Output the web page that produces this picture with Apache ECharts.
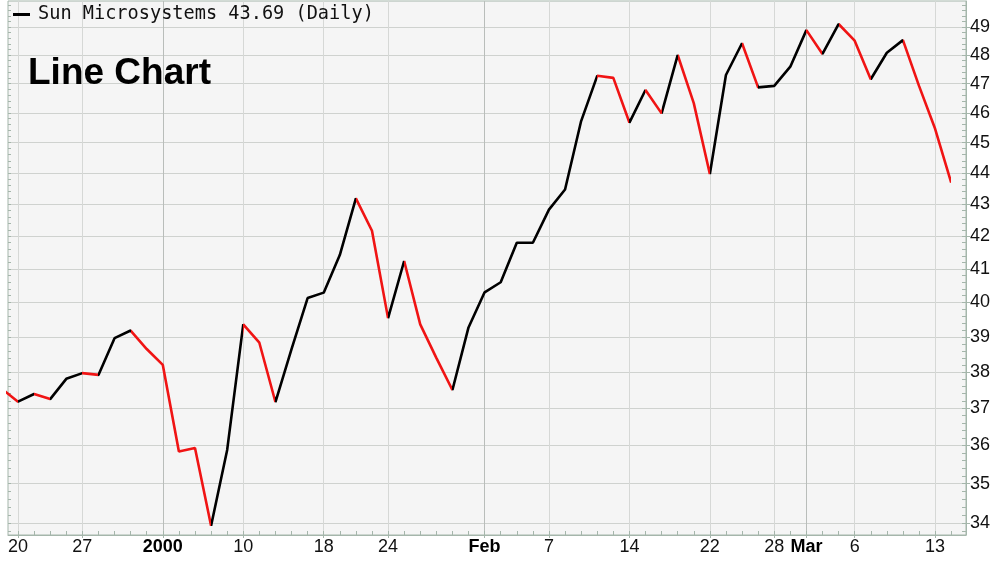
<!DOCTYPE html>
<html><head><meta charset="utf-8">
<script src="https://cdn.jsdelivr.net/npm/echarts@6/dist/echarts.min.js"></script>
<style>html,body{margin:0;padding:0;background:#fff}#c{width:1000px;height:577px}</style>
</head><body><div id="c"></div>
<script>
// ---- data ----
const tradingDays = ['1999-12-17','1999-12-20','1999-12-21','1999-12-22','1999-12-23','1999-12-27','1999-12-28','1999-12-29','1999-12-30','1999-12-31',
  '2000-01-03','2000-01-04','2000-01-05','2000-01-06','2000-01-07','2000-01-10','2000-01-11','2000-01-12','2000-01-13','2000-01-14',
  '2000-01-18','2000-01-19','2000-01-20','2000-01-21','2000-01-24','2000-01-25','2000-01-26','2000-01-27','2000-01-28','2000-01-31',
  '2000-02-01','2000-02-02','2000-02-03','2000-02-04','2000-02-07','2000-02-08','2000-02-09','2000-02-10','2000-02-11','2000-02-14',
  '2000-02-15','2000-02-16','2000-02-17','2000-02-18','2000-02-22','2000-02-23','2000-02-24','2000-02-25','2000-02-28','2000-02-29',
  '2000-03-01','2000-03-02','2000-03-03','2000-03-06','2000-03-07','2000-03-08','2000-03-09','2000-03-10','2000-03-13','2000-03-14'];
const closes = [37.53,37.18,37.39,37.25,37.81,37.97,37.92,38.96,39.18,38.65,
  38.20,35.84,35.93,33.93,35.88,39.36,38.83,37.17,38.65,40.13,
  40.29,41.42,43.19,42.17,39.54,41.24,39.36,38.40,37.50,39.27,
  40.30,40.60,41.80,41.80,42.83,43.47,45.72,47.27,47.20,45.67,
  46.78,45.98,48.00,46.33,43.97,47.30,48.42,46.87,46.92,47.59,
  48.89,48.04,49.11,48.51,47.15,48.08,48.53,46.92,45.46,43.69];
// 1 = down day (segment ending at this point drawn red), 0 = up day (black)
const downDay = [0,1,0,1,0,0,1,0,0,1,
  1,1,1,1,0,0,1,1,0,0,
  0,0,0,1,1,0,1,1,1,0,
  0,0,0,0,0,0,0,0,1,1,
  0,1,0,1,1,0,0,1,0,0,
  0,1,0,1,1,0,0,1,1,1];
const tickDates = ['1999-12-20','1999-12-27','2000-01-03','2000-01-10','2000-01-18','2000-01-24','2000-02-01',
  '2000-02-07','2000-02-14','2000-02-22','2000-02-28','2000-03-01','2000-03-06','2000-03-13'];
const tickLabels = ['20','27','2000','10','18','24','Feb','7','14','22','28','Mar','6','13'];
const boldLabels = ['2000','Feb','Mar'];
const priceTicks = [34,35,36,37,38,39,40,41,42,43,44,45,46,47,48,49];
const seriesName = 'Sun Microsystems 43.69 (Daily)';
const chartTitle = 'Line Chart';

// ---- derived ----
const tickIdx = tickDates.map(d => tradingDays.indexOf(d));
const dayIdx = tradingDays.map((d, i) => i);
const minorPriceTicks = [];
for (let k = 169; k <= 249; k++) minorPriceTicks.push(k / 5);
const RED = '#f01414', BLACK = '#000000';
const pieces = [{gte: -1, lte: 0, color: downDay[0] ? RED : BLACK}];
for (let i = 1; i < closes.length; i++) pieces.push({gt: i - 1, lte: i, color: downDay[i] ? RED : BLACK});
const monthStart = ['2000','Feb','Mar'];
const vColors = tickLabels.map(t => monthStart.includes(t) ? '#b9bdba' : '#d6d8d6');

const border = '#a5b6ab';
const fontAx = 'Liberation Sans, Arial, sans-serif';
const yMin = 33.70, yMax = 49.95, xMin = 0.378, xMax = 59.92;

const chart = echarts.init(document.getElementById('c'), null, {renderer: 'canvas'});
chart.setOption({
  animation: false,
  backgroundColor: '#ffffff',
  title: {
    text: chartTitle, left: 28, top: 55, padding: 0,
    textStyle: {fontFamily: fontAx, fontWeight: 'bold', fontSize: 37, color: '#000'}
  },
  legend: {
    data: [seriesName], left: 13, top: 5, padding: 0,
    icon: 'rect', itemWidth: 17, itemHeight: 3,
    itemStyle: {color: '#000'},
    textStyle: {fontFamily: 'DejaVu Sans Mono, monospace', fontSize: 18.6, color: '#111', padding: [0, 0, 0, 3]}
  },
  grid: {left: 8, right: 34, top: 1, bottom: 42, show: true, backgroundColor: '#f5f5f5', borderColor: border, borderWidth: 1},
  visualMap: {show: false, type: 'piecewise', dimension: 0, seriesIndex: 0, pieces: pieces},
  xAxis: [
    {type: 'value', min: xMin, max: xMax, position: 'bottom',
      axisLine: {show: true, onZero: false, lineStyle: {color: border}},
      axisTick: {show: true, customValues: tickIdx, length: 3, lineStyle: {color: border}},
      axisLabel: {customValues: tickIdx, margin: 3, fontFamily: fontAx, fontSize: 18, color: '#111',
        formatter: v => { const t = tickLabels[tickIdx.indexOf(Math.round(v))] || ''; return boldLabels.includes(t) ? '{b|' + t + '}' : t; },
        rich: {b: {fontFamily: fontAx, fontSize: 18, fontWeight: 'bold', color: '#000'}}},
      splitLine: {show: true, lineStyle: {color: vColors, width: 1}}},
    {type: 'value', min: xMin, max: xMax, position: 'bottom',
      axisLine: {show: false}, axisLabel: {show: false}, splitLine: {show: false},
      axisTick: {show: true, inside: true, customValues: dayIdx, length: 4, lineStyle: {color: border}}}
  ],
  yAxis: [
    {type: 'log', logBase: 10, min: yMin, max: yMax, position: 'right',
      axisLine: {show: true, lineStyle: {color: border}},
      axisTick: {show: true, customValues: priceTicks, length: 4, lineStyle: {color: border}},
      axisLabel: {customValues: priceTicks, margin: 4, fontFamily: fontAx, fontSize: 18, color: '#111',
        formatter: v => String(Math.round(v))},
      splitLine: {show: true, lineStyle: {color: '#cfd2cf', width: 1}}},
    {type: 'log', logBase: 10, min: yMin, max: yMax, position: 'right',
      axisLine: {show: false}, axisLabel: {show: false}, splitLine: {show: false},
      axisTick: {show: true, inside: true, customValues: minorPriceTicks, length: 4, lineStyle: {color: border}}},
    {type: 'log', logBase: 10, min: yMin, max: yMax, position: 'left',
      axisLine: {show: false}, axisLabel: {show: false}, splitLine: {show: false},
      axisTick: {show: true, inside: true, customValues: minorPriceTicks, length: 3, lineStyle: {color: border}}}
  ],
  series: [{
    name: seriesName, type: 'line', xAxisIndex: 0, yAxisIndex: 0,
    data: closes.map((v, i) => [i, v]),
    showSymbol: false, symbol: 'none', smooth: false,
    lineStyle: {width: 2.6}
  }]
});
</script></body></html>
